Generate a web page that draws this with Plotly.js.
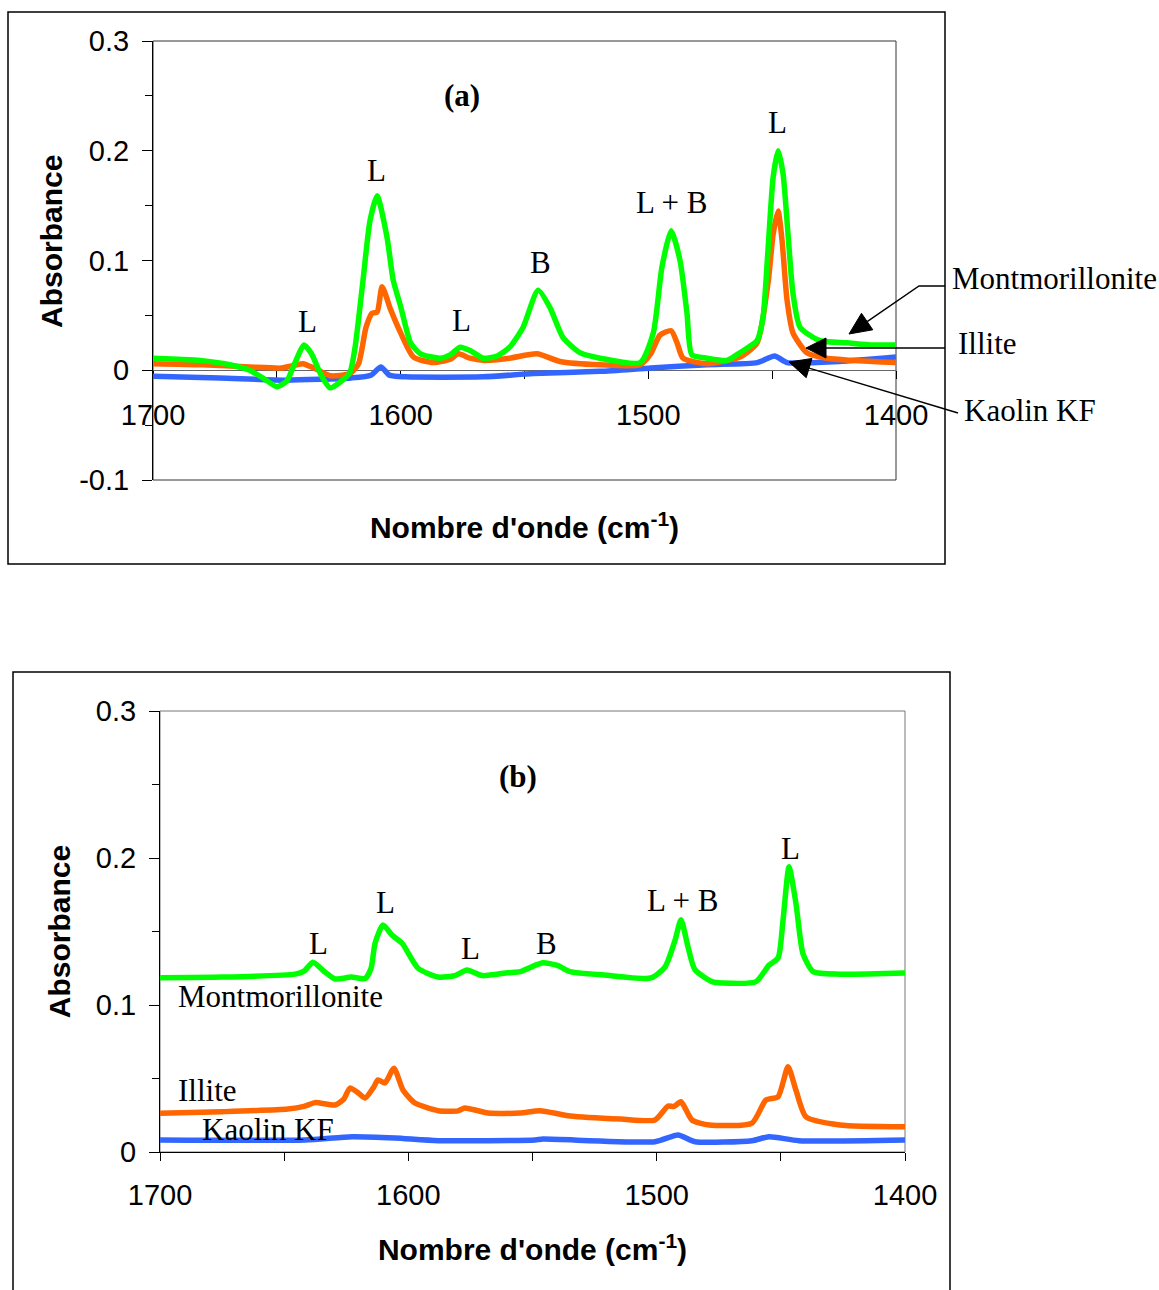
<!DOCTYPE html>
<html>
<head>
<meta charset="utf-8">
<script src="https://cdn.plot.ly/plotly-3.0.1.min.js"></script>
<style>html,body{margin:0;padding:0;background:#fff;}#chart{width:1159px;height:1290px;}</style>
</head>
<body>
<div id="chart"></div>
<script>
// ---------- DATA: panel (a) ----------
const aMontX = [1700,1690,1681,1669,1661,1655,1650,1646,1643,1639,1636,1632,1628.5,1624,1620.5,1618.4,1615.2,1612.4,1609.5,1605.5,1603,1600,1598,1596,1592,1584,1580,1576,1572,1566.7,1561,1556,1550.6,1544.5,1539.7,1534.5,1527.6,1519.5,1503.3,1498,1494.5,1490.8,1487.2,1484.4,1482.4,1476.3,1468.2,1463,1456.1,1453.7,1451.7,1449.6,1447.6,1445.6,1443.6,1441.6,1438.7,1430.7,1419.8,1409.3,1400];
const aMontY = [0.011,0.010,0.009,0.005,0.000,-0.008,-0.015,-0.010,0.005,0.023,0.015,-0.005,-0.016,-0.010,-0.002,0.021,0.082,0.136,0.159,0.121,0.082,0.058,0.040,0.025,0.015,0.011,0.014,0.021,0.018,0.011,0.013,0.021,0.039,0.073,0.057,0.030,0.016,0.011,0.007,0.034,0.094,0.127,0.100,0.052,0.014,0.011,0.009,0.016,0.027,0.048,0.109,0.176,0.200,0.179,0.124,0.070,0.039,0.027,0.025,0.023,0.023];
const aIlliteX = [1700,1680,1661,1648,1644,1639.5,1635,1628.5,1620.5,1617,1614,1611.5,1609.5,1607.5,1604,1600,1594.8,1586.7,1580,1576.7,1572,1566.7,1556,1545,1535.7,1519.5,1503.3,1499,1495.3,1490.8,1488.4,1486,1476.3,1463,1456.1,1451.7,1449.6,1447.6,1446,1444,1441.6,1436,1428,1400];
const aIlliteY = [0.006,0.005,0.003,0.002,0.004,0.006,0.002,-0.005,-0.003,0.006,0.039,0.052,0.053,0.076,0.055,0.034,0.012,0.007,0.010,0.015,0.011,0.009,0.011,0.015,0.008,0.005,0.005,0.015,0.032,0.036,0.025,0.011,0.006,0.012,0.025,0.079,0.124,0.145,0.118,0.064,0.034,0.016,0.011,0.007];
const aKaolinX = [1700,1673,1646.5,1620,1612,1608,1604.5,1598,1566.7,1546.5,1519.5,1499,1476.3,1456,1449,1444,1423,1400];
const aKaolinY = [-0.0055,-0.007,-0.009,-0.007,-0.0045,0.003,-0.0045,-0.006,-0.006,-0.003,-0.001,0.002,0.005,0.007,0.013,0.007,0.008,0.012];

// ---------- DATA: panel (b) ----------
const bMontX = [1700,1675,1645.6,1642,1638.4,1634,1629.5,1623,1617.4,1615,1613.4,1610.2,1606.6,1602.5,1596.1,1588,1581.2,1576.4,1570.3,1559.9,1555,1549,1545.8,1540,1534.9,1521.2,1502.3,1496.6,1492.6,1490.2,1487.4,1484.6,1477.7,1473.7,1460,1454.8,1451.1,1449.1,1446.7,1443.9,1441.1,1437,1426.2,1400];
const bMontY = [0.1186,0.119,0.121,0.123,0.129,0.123,0.1177,0.119,0.118,0.125,0.142,0.1544,0.1476,0.142,0.125,0.119,0.120,0.1238,0.120,0.122,0.1227,0.127,0.1288,0.127,0.1227,0.1204,0.1184,0.126,0.144,0.158,0.1397,0.124,0.1159,0.115,0.1159,0.127,0.132,0.158,0.194,0.169,0.135,0.1227,0.121,0.1218];
const bIlliteX = [1700,1675,1648.5,1642,1637.6,1629.5,1626,1623.5,1620,1617.4,1614,1612.2,1609.4,1605.8,1602.1,1597.3,1588,1580,1577.2,1567.9,1555,1547,1534.9,1514.4,1500.7,1495.4,1493,1490.2,1485.8,1478.9,1461.6,1456,1451.1,1447.1,1443.9,1439.9,1426.2,1400];
const bIlliteY = [0.0264,0.0274,0.0292,0.031,0.0336,0.032,0.036,0.0435,0.040,0.0367,0.044,0.049,0.047,0.057,0.042,0.0333,0.0281,0.028,0.030,0.0265,0.0265,0.0281,0.0245,0.0224,0.0218,0.0313,0.031,0.0342,0.0218,0.0184,0.0197,0.0354,0.0376,0.058,0.042,0.024,0.0184,0.0172];
const bKaolinX = [1700,1641.6,1622.7,1605.4,1588,1549,1545.8,1500.7,1491.4,1484.6,1461.6,1454.8,1442.7,1400];
const bKaolinY = [0.0082,0.0082,0.0104,0.0095,0.0077,0.0082,0.0088,0.007,0.0116,0.007,0.0077,0.0104,0.0077,0.0082];

// ---------- TICKS ----------
const xTickVals = [1700,1600,1500,1400];
const xTickText = ['1700','1600','1500','1400'];
const xMinorVals = [1650,1550,1450];
const aYTickVals = [0.3,0.2,0.1,0,-0.1];
const aYTickText = ['0.3','0.2','0.1','0','-0.1'];
const aYMinorVals = [0.25,0.15,0.05,-0.05];
const bYTickVals = [0.3,0.2,0.1,0];
const bYTickText = ['0.3','0.2','0.1','0'];
const bYMinorVals = [0.25,0.15,0.05];

// ---------- LABELS ----------
const seriesNames = ['Montmorillonite','Illite','Kaolin KF'];
const peakLabels = ['L','L','L','B','L + B','L'];
const xTitle = "Nombre d'onde (cm<sup>-1</sup>)";
const yTitle = 'Absorbance';

// ---------- STYLE ----------
const W = 1159, H = 1290;
const SANS = 'Liberation Sans, Arial, sans-serif';
const SERIF = 'Liberation Serif, Times New Roman, serif';
const COLORS = ['#00ff00','#ff6600','#3366ff'];
const px = v => v / W;
const py = v => 1 - v / H;

function line(x, y, color, xa, ya, name) {
  return {x, y, type:'scatter', mode:'lines', name, xaxis:xa, yaxis:ya,
    line:{color, width:5.5, shape:'spline', smoothing:0.6}, hoverinfo:'skip'};
}

const traces = [
  line(aKaolinX, aKaolinY, COLORS[2], 'x', 'y', seriesNames[2]),
  line(aIlliteX, aIlliteY, COLORS[1], 'x', 'y', seriesNames[1]),
  line(aMontX, aMontY, COLORS[0], 'x', 'y', seriesNames[0]),
  line(bKaolinX, bKaolinY, COLORS[2], 'x2', 'y2', seriesNames[2]),
  line(bIlliteX, bIlliteY, COLORS[1], 'x2', 'y2', seriesNames[1]),
  line(bMontX, bMontY, COLORS[0], 'x2', 'y2', seriesNames[0])
];

const tickFont = {family:SANS, size:29, color:'#000'};
const titleFont = {family:SANS, size:30, color:'#000', weight:'bold'};
function xAxis(domain, standoff, extra) {
  return Object.assign({
    domain, range:[1700,1400], showgrid:false, zeroline:false, showline:true,
    linecolor:'#000', linewidth:1, ticks:'outside', ticklen:8, tickcolor:'#000', tickwidth:1,
    tickmode:'array', tickvals:xTickVals, ticktext:xTickText,
    minor:{tickvals:xMinorVals, ticks:'outside', ticklen:8, tickcolor:'#000', tickwidth:1, showgrid:false},
    tickfont:tickFont, layer:'below traces', fixedrange:true, automargin:false,
    title:{text:'<b>' + xTitle + '</b>', font:titleFont, standoff}
  }, extra);
}
function yAxis(domain, range, tv, tt, mv, extra) {
  return Object.assign({
    domain, range, showgrid:false, zeroline:false, showline:true,
    linecolor:'#000', linewidth:1, ticks:'outside', ticklen:10, tickcolor:'#000', tickwidth:1,
    tickmode:'array', tickvals:tv, ticktext:tt,
    minor:{tickvals:mv, ticks:'outside', ticklen:7, tickcolor:'#000', tickwidth:1, showgrid:false},
    tickfont:tickFont, ticklabelstandoff:7, layer:'below traces', fixedrange:true, automargin:false
  }, extra);
}

function txt(x, y, text, o) {
  return Object.assign({xref:'paper', yref:'paper', x:px(x), y:py(y), text, showarrow:false,
    xanchor:'center', yanchor:'middle', font:{family:SERIF, size:31, color:'#000'}}, o || {});
}

// leader lines with filled arrowheads (pixel geometry -> paper)
function leader(points, headLen, headHalf) {
  const tip = points[points.length - 1], prev = points[points.length - 2];
  const dx = prev[0] - tip[0], dy = prev[1] - tip[1], d = Math.hypot(dx, dy);
  const ux = dx / d, uy = dy / d, nx = -uy, ny = ux;
  const bx = tip[0] + ux * headLen, by = tip[1] + uy * headLen;
  const linePts = points.slice(0, -1).concat([[bx, by]]);
  const path = linePts.map((p, i) => (i ? 'L' : 'M') + px(p[0]) + ',' + py(p[1])).join(' ');
  const head = 'M' + px(tip[0]) + ',' + py(tip[1]) +
    ' L' + px(bx + nx * headHalf) + ',' + py(by + ny * headHalf) +
    ' L' + px(bx - nx * headHalf) + ',' + py(by - ny * headHalf) + ' Z';
  return [
    {type:'path', xref:'paper', yref:'paper', path, line:{color:'#000', width:1.4}},
    {type:'path', xref:'paper', yref:'paper', path:head, fillcolor:'#000', line:{color:'#000', width:1}}
  ];
}

const annotations = [
  // panel (a)
  txt(462, 95, '<b>(a)</b>'),
  txt(307, 322, peakLabels[0]),
  txt(376, 170, peakLabels[1]),
  txt(461, 320, peakLabels[2]),
  txt(540, 262, peakLabels[3]),
  txt(671, 202, peakLabels[4]),
  txt(777, 122, peakLabels[5]),
  txt(950, 278, seriesNames[0], {xanchor:'left'}),
  txt(956, 344, seriesNames[1], {xanchor:'left'}),
  txt(962, 410, seriesNames[2], {xanchor:'left'}),
  txt(51, 242, '<b>' + yTitle + '</b>', {textangle:-90, font:titleFont}),
  // panel (b)
  txt(518, 776, '<b>(b)</b>'),
  txt(318, 943, peakLabels[0]),
  txt(386, 902, peakLabels[1]),
  txt(470, 948, peakLabels[2]),
  txt(546, 943, peakLabels[3]),
  txt(682, 900, peakLabels[4]),
  txt(790, 848, peakLabels[5]),
  txt(176, 996, seriesNames[0], {xanchor:'left'}),
  txt(176, 1090, seriesNames[1], {xanchor:'left'}),
  txt(200, 1129, seriesNames[2], {xanchor:'left'})
];

const shapes = [
  // outer frames
  {type:'rect', xref:'paper', yref:'paper', x0:px(8), x1:px(945), y0:py(564), y1:py(12), line:{color:'#000', width:1.5}},
  {type:'rect', xref:'paper', yref:'paper', x0:px(13), x1:px(950), y0:-0.02, y1:py(672), line:{color:'#000', width:1.5}},
  // plot-area borders
  {type:'rect', xref:'paper', yref:'paper', x0:px(153), x1:px(896), y0:py(480), y1:py(41), line:{color:'#333', width:1}, layer:'below'},
  {type:'rect', xref:'paper', yref:'paper', x0:px(160), x1:px(905), y0:py(1152), y1:py(711), line:{color:'#777', width:1}, layer:'below'}
].concat(
  leader([[945, 286], [919, 286], [849, 334]], 22, 10),
  leader([[945, 348], [806, 348]], 20, 10),
  leader([[958, 413], [789, 362]], 21, 10)
);

const layout = {
  width:W, height:H, margin:{l:0, r:0, t:0, b:0},
  paper_bgcolor:'#fff', plot_bgcolor:'rgba(0,0,0,0)', showlegend:false,
  xaxis: xAxis([px(153), px(896)], 87, {anchor:'free', position:py(370), linecolor:'#666', ticklabelstandoff:11}),
  yaxis: yAxis([py(480), py(41)], [-0.1, 0.3], aYTickVals, aYTickText, aYMinorVals, {anchor:'x'}),
  xaxis2: xAxis([px(160), px(905)], 29, {anchor:'y2', ticklabelstandoff:9}),
  yaxis2: yAxis([py(1152), py(711)], [0, 0.3], bYTickVals, bYTickText, bYMinorVals,
    {anchor:'x2', title:{text:'<b>' + yTitle + '</b>', font:titleFont, standoff:16}}),
  annotations, shapes
};

Plotly.newPlot('chart', traces, layout, {staticPlot:true, displayModeBar:false});
</script>
</body>
</html>
